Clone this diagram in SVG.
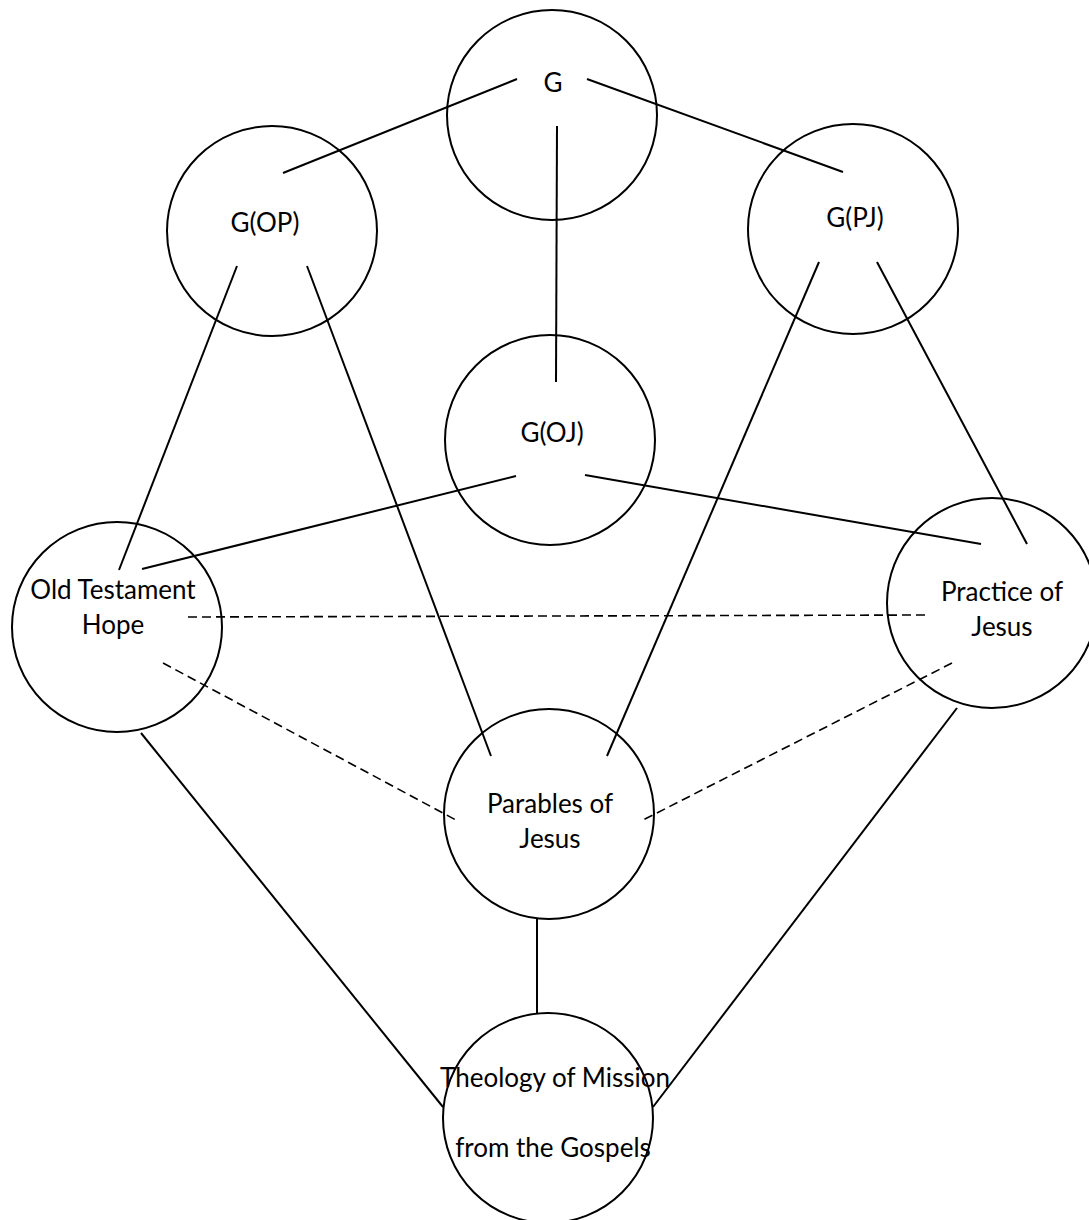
<svg xmlns="http://www.w3.org/2000/svg" width="1089" height="1220" viewBox="0 0 1089 1220">
  <style>
    .node circle { fill: none; stroke: #000; stroke-width: 2; }
    .node text { font-family: "Lato", "Open Sans", "Liberation Sans", sans-serif; font-size: 26px; fill: #000; text-anchor: middle; }
    .edge { stroke: #000; stroke-width: 2; fill: none; }
    .dash { stroke: #000; stroke-width: 1.6; fill: none; stroke-dasharray: 9 5; }
  </style>
  <rect width="1089" height="1220" fill="#fff"/>

  <g id="connectors">
    <line class="edge" x1="517" y1="79" x2="283" y2="173"/>
    <line class="edge" x1="587" y1="79" x2="843" y2="172"/>
    <line class="edge" x1="557" y1="126" x2="556" y2="382"/>
    <line class="edge" x1="237" y1="266" x2="119" y2="570"/>
    <line class="edge" x1="307" y1="266" x2="491" y2="756"/>
    <line class="edge" x1="819" y1="262" x2="607" y2="756"/>
    <line class="edge" x1="877" y1="262" x2="1027" y2="544"/>
    <line class="edge" x1="516" y1="476" x2="142" y2="569"/>
    <line class="edge" x1="585" y1="475" x2="981" y2="544"/>
    <line class="edge" x1="141" y1="733" x2="443" y2="1107"/>
    <line class="edge" x1="957" y1="708" x2="653" y2="1107"/>
    <line class="edge" x1="537" y1="918" x2="537" y2="1013"/>
    <line class="dash" x1="188" y1="617" x2="928" y2="615"/>
    <line class="dash" x1="163" y1="663" x2="456" y2="820"/>
    <line class="dash" x1="952" y1="663" x2="643" y2="820"/>
  </g>

  <g id="node-g" class="node">
    <circle cx="552" cy="115" r="105"/>
    <text x="553" y="92">G</text>
  </g>
  <g id="node-gop" class="node">
    <circle cx="272" cy="231" r="105"/>
    <text x="265" y="232">G(OP)</text>
  </g>
  <g id="node-gpj" class="node">
    <circle cx="853" cy="229" r="105"/>
    <text x="855" y="227">G(PJ)</text>
  </g>
  <g id="node-goj" class="node">
    <circle cx="550" cy="440" r="105"/>
    <text x="552" y="442">G(OJ)</text>
  </g>
  <g id="node-ot-hope" class="node">
    <circle cx="117" cy="627" r="105"/>
    <text x="113" y="599">Old Testament</text>
    <text x="113" y="634">Hope</text>
  </g>
  <g id="node-practice" class="node">
    <circle cx="992" cy="603" r="105"/>
    <text x="1002" y="601">Practice of</text>
    <text x="1002" y="636">Jesus</text>
  </g>
  <g id="node-parables" class="node">
    <circle cx="549" cy="814" r="105"/>
    <text x="550" y="813">Parables of</text>
    <text x="550" y="848">Jesus</text>
  </g>
  <g id="node-theology" class="node">
    <circle cx="548" cy="1118" r="105"/>
    <text x="555" y="1087">Theology of Mission</text>
    <text x="553" y="1157">from the Gospels</text>
  </g>
</svg>
